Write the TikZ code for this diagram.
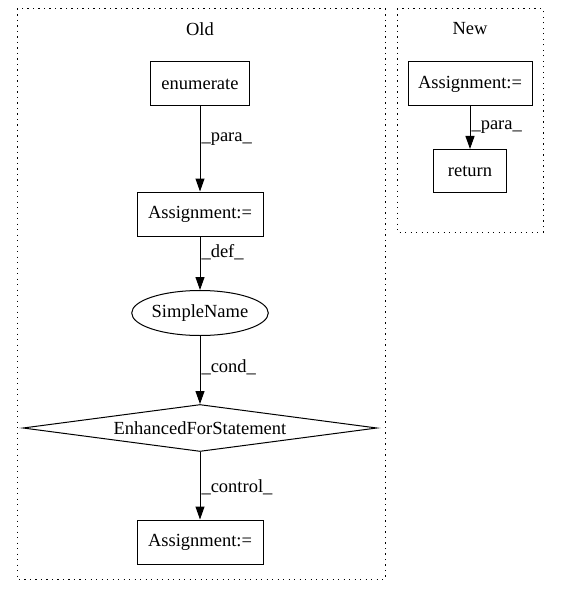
\documentclass[tikz,border=0pt]{standalone}
\usepackage{fontspec}
\setmainfont{Liberation Serif}
\usetikzlibrary{shapes.geometric,arrows.meta}

\begin{document}
\begin{tikzpicture}[x=1pt,y=-1pt,
  every node/.style={font=\fontsize{18.5}{22}\selectfont},
  box/.style={draw,line width=1pt,rectangle,minimum height=44pt,inner sep=0pt},
  flow/.style={line width=1pt,-{Triangle[length=13pt,width=9pt]}},
  elabel/.style={right,inner sep=1pt},
  cluster/.style={line width=1pt,dash pattern=on 1.3pt off 4.2pt}]
% Define common parameters
\def\oldx{200}
\def\newx{470}

\useasboundingbox (0,0) rectangle (560,596);

% Cluster: Old
\draw[cluster] (17,9) rectangle (385,579);
\node (oldlbl) at (\oldx,29) {Old};
\node[box, minimum width=99pt] (enum) at (\oldx,84) {enumerate};
\node[box, minimum width=126pt] (assign) at (\oldx,214) {Assignment:=};
\node[draw, ellipse, line width=1pt, inner sep=0pt,
  minimum width=116pt, minimum height=45pt] (sname) at (\oldx,313) {SimpleName};
\node[draw, diamond, line width=1pt, inner sep=0pt, aspect=7.5,
  minimum width=354pt, minimum height=47pt] (efor) at (\oldx,428) {EnhancedForStatement};
\node[box, minimum width=126pt] (assignb) at (\oldx,542) {Assignment:=};

\draw[flow] (enum) -- node[elabel, pos=0.38] {\_para\_} (assign);
\draw[flow] (assign) -- node[elabel, pos=0.3] {\_def\_} (sname);
\draw[flow] (sname) -- node[elabel, pos=0.46] {\_cond\_} (efor);
\draw[flow] (efor) -- node[elabel, pos=0.52] {\_control\_} (assignb);

% Cluster: New
\draw[cluster] (397,9) rectangle (543,232);
\node (newlbl) at (\newx,29) {New};
\node[box, minimum width=124pt] (nassign) at (\newx,84) {Assignment:=};
\node[box, minimum width=73pt, minimum height=43pt] (ret) at (\newx,171) {return};

\draw[flow] (nassign) -- node[elabel, pos=0.48] {\_para\_} (ret);

\end{tikzpicture}
\end{document}
